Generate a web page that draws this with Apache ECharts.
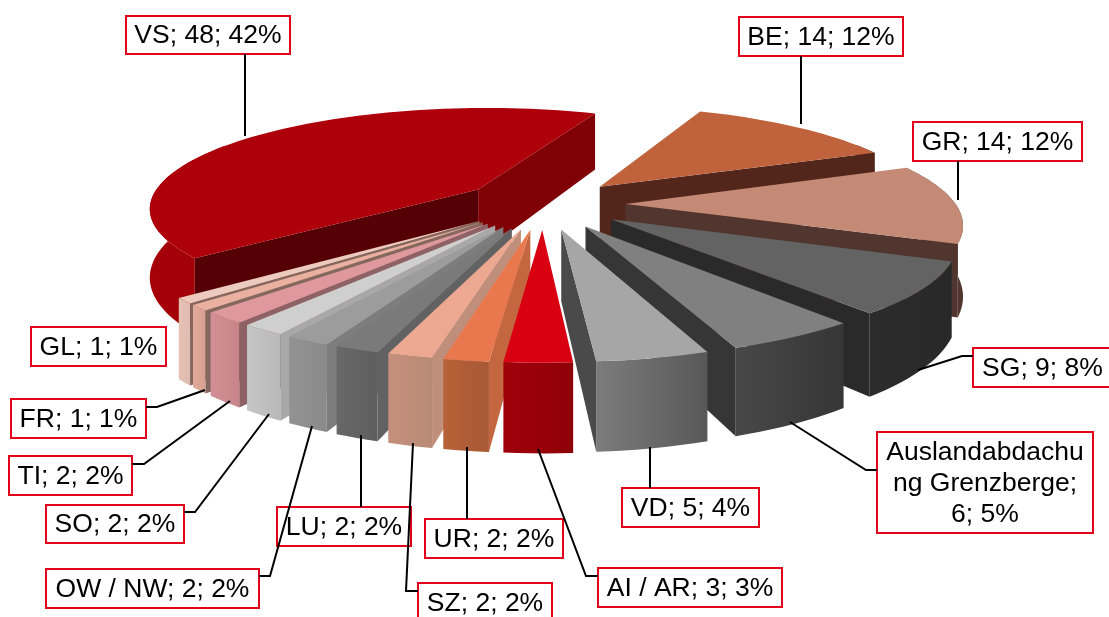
<!DOCTYPE html>
<html>
<head>
<meta charset="utf-8">
<style>html,body{margin:0;padding:0;background:#fff}#c{width:1109px;height:617px}</style>
<script src="https://cdn.jsdelivr.net/npm/echarts@6/dist/echarts.min.js"></script>
</head>
<body>
<div id="c"></div>
<script>
// ---- data ----
const categories = ['VS','BE','GR','SG','Auslandabdachung Grenzberge','VD','AI / AR','UR','SZ','LU','OW / NW','SO','TI','FR','GL'];
const values     = [48,14,14,9,6,5,3,2,2,2,2,2,2,1,1];
const percents   = [42,12,12,8,5,4,3,2,2,2,2,2,2,1,1];

// ---- styles ----
const topColors  = ['#ae000b','#c0623c','#c48a76','#636363','#808080','#a6a6a6','#d90012','#e9784e','#eda892','#7a7a7a','#9c9c9c','#cfcfcf','#e0989f','#eab0a0','#eccabd'];
const startCut   = ['#540004','#52261a','#50362f','#2a2a2a','#363636','#4a4a4a','#8f0008','#c4663f','#c08f7c','#626262','#7d7d7d','#a8a8a8','#8e6265','#84685e','#84685e'];
const endCut     = ['#800006','#52261a','#50362f','#2a2a2a','#363636','#4a4a4a','#8f0008','#c4663f','#c08f7c','#626262','#7d7d7d','#a8a8a8','#8e6265','#84685e','#84685e'];
const rimLeft    = ['#a60009','#52261a','#5a3f38','#2c2c2c','#484848','#7c7c7c','#a0000a','#b86238','#c4907c','#686868','#939393','#c6c6c6','#d29096','#e2aa9a','#e6c2b5'];
const rimRight   = ['#a00008','#52261a','#50362f','#282828','#363636','#585858','#8f0008','#a85835','#b88a75','#5e5e5e','#8a8a8a','#b8b8b8','#c88488','#d8a090','#e0bcb0'];

// ---- label layout: [left, top, right, bottom] and leader polyline ----
const labelBoxes = [
  [126,16,290,54],[739,17,903,56],[913,122,1082,161],[973,348,1112,387],[877,432,1093,533],
  [622,488,759,527],[598,568,782,607],[425,519,563,558],[418,583,552,622],[277,507,411,546],
  [46,569,259,608],[46,505,184,543],[9,456,132,495],[11,399,146,438],[31,327,166,366]
];
const leaders = [
  [[245,54],[245,136]],[[801,56],[801,124]],[[958,161],[958,200]],
  [[973,356],[962,356],[918,370]],[[877,470],[866,470],[790,422]],
  [[650,488],[650,447]],[[598,576],[586,576],[538,449]],[[467,519],[467,447]],
  [[418,591],[406,591],[413,443]],[[361,507],[361,435]],[[259,576],[270,576],[312,426]],
  [[184,512],[195,512],[269,414]],[[132,464],[144,464],[230,401]],[[146,407],[157,407],[205,390]],
  []
];
const breaks = {4:[14,28]};

// ---- projection of the tilted, exploded pie ----
const CX = 543, CY = 204, SX = 330, SY = 100, K = 0.17, KH = 0.2, H = 68, EXPLODE = 0.25, FIRST = -130.1;
const total = values.reduce((a,b)=>a+b,0);
function rad(d){return d*Math.PI/180;}
function project(u,v,z){
  const d = 1 + K*v;
  return [CX + SX*u/d, CY - SY*v/d + z*H/(1+KH*v)];
}
const angles = [];
values.reduce((acc,v,i)=>{ const e = acc + v/total*360; angles[i]=[acc,e]; return e; }, FIRST);

function sliceShapes(i){
  const [a0,a1] = angles[i], am = (a0+a1)/2;
  const ox = EXPLODE*Math.sin(rad(am)), oy = EXPLODE*Math.cos(rad(am));
  const steps = Math.max(2, Math.ceil((a1-a0)/2));
  const topArc = [], botArc = [];
  for(let s=0;s<=steps;s++){
    const a = rad(a0 + (a1-a0)*s/steps);
    const u = ox + Math.sin(a), v = oy + Math.cos(a);
    topArc.push(project(u,v,0)); botArc.push(project(u,v,1));
  }
  const apexT = project(ox,oy,0), apexB = project(ox,oy,1);
  const mid = topArc[Math.floor(steps/2)];
  const cross = (p,q,r)=>(q[0]-p[0])*(r[1]-p[1])-(q[1]-p[1])*(r[0]-p[0]);
  const kids = [];
  // rim: the part that can face the viewer; the top face paints over the rest
  const rt = [], rb = [];
  for(let s=0;s<=steps;s++){
    const a = a0 + (a1-a0)*s/steps;
    if(Math.cos(rad(a)) < 0.5){ rt.push(topArc[s]); rb.push(botArc[s]); }
  }
  if(rt.length>1){
    kids.push({type:'polygon',shape:{points:rt.concat(rb.slice().reverse())},
      style:{fill:{type:'linear',x:0,y:0,x2:1,y2:0,colorStops:[{offset:0,color:rimLeft[i]},{offset:1,color:rimRight[i]}]}}});
  }
  const t0 = topArc[0], b0 = botArc[0], t1 = topArc[steps], b1 = botArc[steps];
  if(cross(apexT,t0,mid)*cross(apexT,t0,b0) < 0){
    kids.push({type:'polygon',shape:{points:[apexT,t0,b0,apexB]},style:{fill:startCut[i]}});
  }
  if(cross(apexT,t1,mid)*cross(apexT,t1,b1) < 0){
    kids.push({type:'polygon',shape:{points:[apexT,t1,b1,apexB]},style:{fill:endCut[i]}});
  }
  kids.push({type:'polygon',shape:{points:[apexT].concat(topArc)},style:{fill:topColors[i]}});
  return kids;
}
// painter's order: far slices first
const drawOrder = values.map((_,i)=>i).sort((p,q)=>{
  const m = i=>Math.cos(rad((angles[i][0]+angles[i][1])/2));
  return m(q)-m(p);
});

function labelText(i){
  let t = categories[i]+'; '+values[i]+'; '+percents[i]+'%';
  if(breaks[i]){
    const [a,b] = breaks[i];
    t = t.slice(0,a)+'\n'+t.slice(a,b)+'\n'+t.slice(b).trim();
  }
  return t;
}

const chart = echarts.init(document.getElementById('c'),null,{renderer:'canvas'});
chart.setOption({
  animation:false,
  backgroundColor:'#ffffff',
  series:[
    {
      type:'custom',coordinateSystem:'none',silent:true,z:1,
      data:drawOrder.map(i=>[i]),
      renderItem:(p,api)=>({type:'group',children:sliceShapes(api.value(0))})
    },
    {
      type:'custom',coordinateSystem:'none',silent:true,z:2,
      data:categories.map((_,i)=>[i]),
      renderItem:(p,api)=>{
        const i = api.value(0), b = labelBoxes[i];
        return {type:'group',children:[
          {type:'rect',shape:{x:b[0],y:b[1],width:b[2]-b[0],height:b[3]-b[1]},
            style:{fill:'#ffffff',stroke:'#e2001a',lineWidth:2}},
        ]};
      }
    },
    {
      type:'custom',coordinateSystem:'none',silent:true,z:3,
      data:categories.map((_,i)=>[i]),
      renderItem:(p,api)=>{
        const i = api.value(0), b = labelBoxes[i], kids = [];
        if(leaders[i].length) kids.push({type:'polyline',shape:{points:leaders[i]},style:{fill:null,stroke:'#000',lineWidth:2}});
        kids.push({type:'text',style:{text:labelText(i),x:(b[0]+Math.min(b[2],1112))/2 ,y:(b[1]+b[3])/2+1,
          align:'center',verticalAlign:'middle',font:'26.5px "Liberation Sans", Arial, sans-serif',lineHeight:31,fill:'#000'}});
        return {type:'group',children:kids};
      }
    }
  ]
});
</script>
</body>
</html>
